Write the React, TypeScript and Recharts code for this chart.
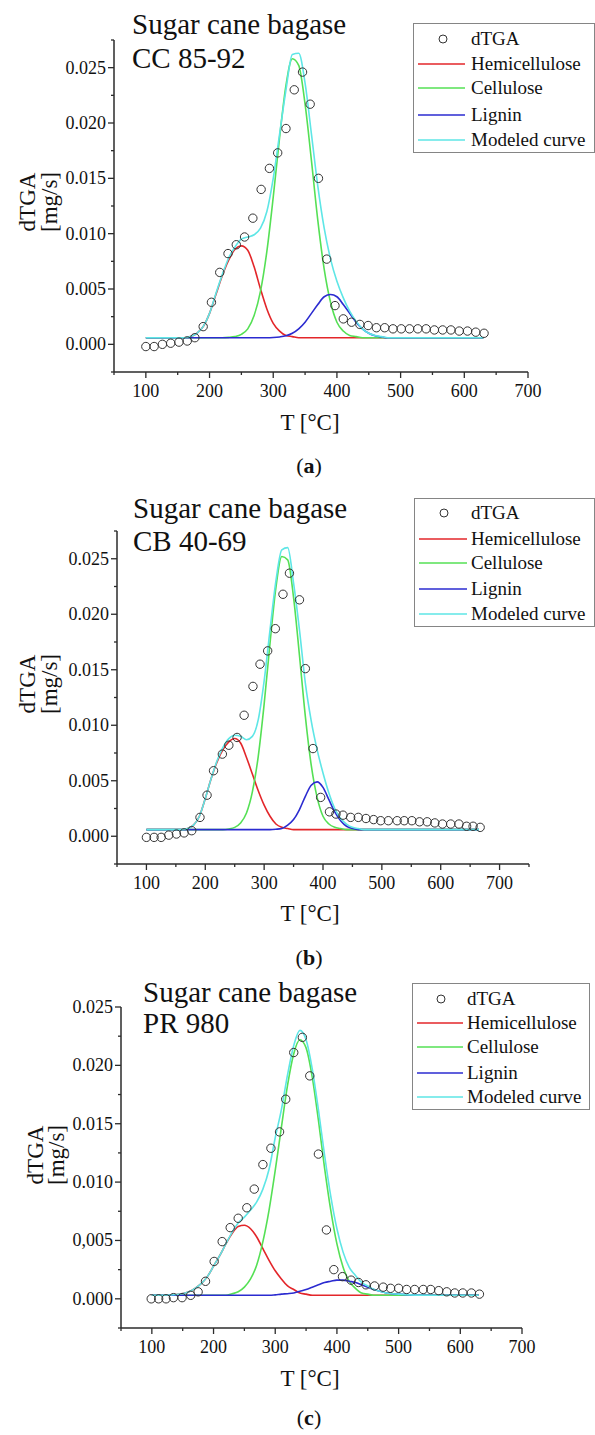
import { ComposedChart, Line, Scatter, XAxis, YAxis, Legend } from "recharts";

const FONT = '"Liberation Serif", "Times New Roman", serif';
const AXIS = "#2b2b2b";
const INK = "#111";

const RED = "#e3262a";
const GREEN = "#55e055";
const BLUE = "#2b2bd0";
const CYAN = "#5ee6e6";

// ---- shared axis ticks / labels
const X_TICKS = [50, 100, 150, 200, 250, 300, 350, 400, 450, 500, 550, 600, 650, 700];
const X_TICKS_B = [...X_TICKS, 750];
const X_MAJOR = [100, 200, 300, 400, 500, 600, 700];
const X_LABELS = ["100", "200", "300", "400", "500", "600", "700"];
const Y_TICKS_AB = [-0.0025, 0, 0.0025, 0.005, 0.0075, 0.01, 0.0125, 0.015, 0.0175, 0.02, 0.0225, 0.025, 0.0275];
const Y_TICKS_C = [-0.0025, 0, 0.0025, 0.005, 0.0075, 0.01, 0.0125, 0.015, 0.0175, 0.02, 0.0225, 0.025];
const Y_MAJOR = [0, 0.005, 0.01, 0.015, 0.02, 0.025];
const Y_LABELS = ["0.000", "0.005", "0.010", "0.015", "0.020", "0.025"];
const Y_LABELS_C = ["0.000", "0,005", "0.010", "0.015", "0.020", "0.025"];

const VARIETIES = ["CC 85-92", "CB 40-69", "PR 980"];

// ---- (a) CC 85-92
const dtgaTA = [100, 113, 126, 139, 152, 165, 177, 190, 203, 216, 229, 242, 255, 268, 281, 294, 307, 320, 333, 346, 358, 371, 384, 397, 410, 423, 436, 449, 462, 475, 488, 501, 514, 527, 540, 553, 566, 579, 592, 605, 618, 631];
const dtgaA = [-0.0002, -0.0002, 0.0, 0.0001, 0.0002, 0.0003, 0.0006, 0.0016, 0.0038, 0.0065, 0.0082, 0.009, 0.0097, 0.0114, 0.014, 0.0159, 0.0173, 0.0195, 0.023, 0.0246, 0.0217, 0.015, 0.0077, 0.0035, 0.0023, 0.002, 0.0018, 0.0017, 0.0015, 0.0015, 0.0014, 0.0014, 0.0014, 0.0014, 0.0014, 0.0013, 0.0013, 0.0013, 0.0012, 0.0012, 0.0011, 0.001];

// curve temperatures for (a) and (c)
const tAC = [100, 120, 140, 160, 170, 180, 190, 200, 210, 220, 230, 240, 250, 260, 270, 280, 290, 300, 310, 320, 330, 340, 350, 360, 370, 380, 390, 400, 410, 420, 430, 440, 450, 460, 470, 480, 500, 550, 600, 630];

const hemiA = [0.0006, 0.0006, 0.0006, 0.0006, 0.0007, 0.001, 0.0016, 0.0028, 0.0045, 0.0062, 0.0076, 0.0086, 0.0089, 0.0085, 0.007, 0.005, 0.0032, 0.0019, 0.0012, 0.0008, 0.0007, 0.0006, 0.0006, 0.0006, 0.0006, 0.0006, 0.0006, 0.0006, 0.0006, 0.0006, 0.0006, 0.0006, 0.0006, 0.0006, 0.0006, 0.0006, 0.0006, 0.0006, 0.0006, 0.0006];
const celA = [0.0006, 0.0006, 0.0006, 0.0006, 0.0006, 0.0006, 0.0006, 0.0006, 0.0006, 0.0006, 0.00063, 0.0007, 0.0009, 0.0014, 0.0026, 0.0048, 0.0084, 0.0133, 0.0187, 0.0234, 0.0258, 0.0252, 0.0217, 0.0166, 0.0112, 0.0068, 0.0038, 0.002, 0.0012, 0.0008, 0.0007, 0.0006, 0.0006, 0.0006, 0.0006, 0.0006, 0.0006, 0.0006, 0.0006, 0.0006];
const ligA = [0.0006, 0.0006, 0.0006, 0.0006, 0.0006, 0.0006, 0.0006, 0.0006, 0.0006, 0.0006, 0.0006, 0.0006, 0.0006, 0.0006, 0.0006, 0.0006, 0.0006, 0.00062, 0.00067, 0.00077, 0.001, 0.0014, 0.002, 0.0028, 0.0036, 0.0043, 0.0045, 0.0043, 0.0036, 0.0028, 0.002, 0.0014, 0.001, 0.00077, 0.00067, 0.0006, 0.0006, 0.0006, 0.0006, 0.0006];
const modA = [0.0006, 0.0006, 0.0006, 0.0006, 0.0007, 0.001, 0.0016, 0.0028, 0.0046, 0.0063, 0.0078, 0.0088, 0.0095, 0.0097, 0.0099, 0.0105, 0.012, 0.015, 0.019, 0.023, 0.0262, 0.0263, 0.0236, 0.019, 0.0143, 0.0105, 0.0077, 0.0057, 0.0042, 0.003, 0.0021, 0.0014, 0.001, 0.0008, 0.0007, 0.0006, 0.0006, 0.0006, 0.0006, 0.0006];

// ---- (b) CB 40-69
const dtgaTB = [100, 113, 125, 138, 151, 164, 177, 191, 203, 214, 229, 240, 254, 266, 281, 293, 306, 319, 332, 343, 360, 370, 383, 396, 411, 422, 434, 447, 460, 473, 486, 498, 511, 526, 538, 551, 564, 577, 590, 603, 617, 631, 644, 655, 667];
const dtgaB = [-0.0001, -0.0001, -0.0001, 0.0001, 0.0002, 0.0003, 0.0005, 0.0017, 0.0037, 0.0059, 0.0074, 0.0082, 0.0089, 0.0109, 0.0135, 0.0155, 0.0167, 0.0187, 0.0218, 0.0237, 0.0213, 0.0151, 0.0079, 0.0035, 0.0022, 0.002, 0.0019, 0.0017, 0.0017, 0.0016, 0.0015, 0.0014, 0.0014, 0.0014, 0.0014, 0.0014, 0.0013, 0.0013, 0.0012, 0.0011, 0.0011, 0.0011, 0.0009, 0.0009, 0.0008];

const tB = [100, 120, 140, 160, 170, 180, 190, 200, 210, 220, 230, 240, 250, 260, 270, 280, 290, 300, 310, 320, 330, 340, 350, 360, 370, 380, 390, 400, 410, 420, 430, 440, 450, 460, 470, 480, 500, 550, 600, 650, 665];
const hemiB = [0.0006, 0.0006, 0.0006, 0.0006, 0.0007, 0.001, 0.0018, 0.0034, 0.0052, 0.0067, 0.0078, 0.0085, 0.0088, 0.0084, 0.0071, 0.0056, 0.0041, 0.0028, 0.0018, 0.0011, 0.0008, 0.0007, 0.0006, 0.0006, 0.0006, 0.0006, 0.0006, 0.0006, 0.0006, 0.0006, 0.0006, 0.0006, 0.0006, 0.0006, 0.0006, 0.0006, 0.0006, 0.0006, 0.0006, 0.0006, 0.0006];
const celB = [0.0006, 0.0006, 0.0006, 0.0006, 0.0006, 0.0006, 0.0006, 0.0006, 0.0006, 0.0006, 0.0006, 0.00066, 0.0008, 0.0012, 0.0021, 0.004, 0.0072, 0.0119, 0.0174, 0.0224, 0.0252, 0.0249, 0.0215, 0.0163, 0.0108, 0.0064, 0.0035, 0.0018, 0.0011, 0.0008, 0.0007, 0.0006, 0.0006, 0.0006, 0.0006, 0.0006, 0.0006, 0.0006, 0.0006, 0.0006, 0.0006];
const ligB = [0.0006, 0.0006, 0.0006, 0.0006, 0.0006, 0.0006, 0.0006, 0.0006, 0.0006, 0.0006, 0.0006, 0.0006, 0.0006, 0.0006, 0.0006, 0.0006, 0.0006, 0.0006, 0.0006, 0.00063, 0.0007, 0.001, 0.0015, 0.0024, 0.0036, 0.0046, 0.0049, 0.0044, 0.0033, 0.0022, 0.0014, 0.0009, 0.0007, 0.0006, 0.0006, 0.0006, 0.0006, 0.0006, 0.0006, 0.0006, 0.0006];
const modB = [0.0006, 0.0006, 0.0006, 0.0006, 0.0007, 0.001, 0.0018, 0.0034, 0.0052, 0.0068, 0.008, 0.0088, 0.0091, 0.009, 0.0087, 0.009, 0.0105, 0.014, 0.0186, 0.023, 0.0258, 0.026, 0.0228, 0.0186, 0.0138, 0.0104, 0.0078, 0.0057, 0.0039, 0.0025, 0.0016, 0.0011, 0.0008, 0.0007, 0.0006, 0.0006, 0.0006, 0.0006, 0.0006, 0.0006, 0.0006];

// ---- (c) PR 980
const dtgaTC = [99, 111, 123, 135, 149, 163, 175, 187, 201, 214, 227, 240, 254, 266, 280, 293, 307, 317, 330, 344, 356, 370, 383, 395, 409, 423, 435, 447, 461, 475, 487, 500, 513, 526, 540, 552, 565, 578, 591, 604, 618, 631];
const dtgaC = [0.0, 0.0, 0.0, 0.0001, 0.0001, 0.0003, 0.0006, 0.0015, 0.0032, 0.0049, 0.0061, 0.0069, 0.0078, 0.0094, 0.0115, 0.0129, 0.0143, 0.0171, 0.0211, 0.0224, 0.0191, 0.0124, 0.0059, 0.0025, 0.0019, 0.0016, 0.0014, 0.0012, 0.0011, 0.001, 0.0009, 0.0009, 0.0008, 0.0008, 0.0008, 0.0008, 0.0007, 0.0006, 0.0005, 0.0005, 0.0005, 0.0004];

const hemiC = [0.0003, 0.0003, 0.00037, 0.0006, 0.0009, 0.0013, 0.0019, 0.0028, 0.0037, 0.0047, 0.0056, 0.0062, 0.0063, 0.006, 0.0053, 0.0043, 0.0033, 0.0024, 0.0017, 0.0011, 0.0008, 0.0005, 0.0004, 0.0003, 0.0003, 0.0003, 0.0003, 0.0003, 0.0003, 0.0003, 0.0003, 0.0003, 0.0003, 0.0003, 0.0003, 0.0003, 0.0003, 0.0003, 0.0003, 0.0003];
const celC = [0.0003, 0.0003, 0.0003, 0.0003, 0.0003, 0.0003, 0.0003, 0.0003, 0.0003, 0.0003, 0.00043, 0.0006, 0.001, 0.0017, 0.0029, 0.0049, 0.0076, 0.011, 0.0147, 0.0183, 0.021, 0.0222, 0.0215, 0.019, 0.0153, 0.0112, 0.0076, 0.0047, 0.0027, 0.0015, 0.0009, 0.0005, 0.0004, 0.0003, 0.0003, 0.0003, 0.0003, 0.0003, 0.0003, 0.0003];
const ligC = [0.0003, 0.0003, 0.0003, 0.0003, 0.0003, 0.0003, 0.0003, 0.0003, 0.0003, 0.0003, 0.0003, 0.0003, 0.0003, 0.0003, 0.0003, 0.0003, 0.0003, 0.00034, 0.0004, 0.00044, 0.0005, 0.00065, 0.0008, 0.001, 0.0012, 0.0014, 0.0015, 0.0016, 0.0016, 0.0015, 0.0014, 0.0012, 0.001, 0.0008, 0.00065, 0.0005, 0.0004, 0.0003, 0.0003, 0.0003];
const modC = [0.0003, 0.0003, 0.00037, 0.0006, 0.0009, 0.0013, 0.0019, 0.0028, 0.0037, 0.0047, 0.0057, 0.0065, 0.007, 0.0076, 0.0083, 0.0094, 0.0111, 0.0138, 0.0162, 0.0192, 0.0217, 0.023, 0.0222, 0.0197, 0.0162, 0.0123, 0.0088, 0.006, 0.004, 0.0027, 0.002, 0.0014, 0.0011, 0.0008, 0.00065, 0.0005, 0.0004, 0.0003, 0.0003, 0.0003];

const curveData = (t: number[], h: number[], c: number[], l: number[], m: number[]) =>
  t.map((T, i) => ({ T, hemi: h[i], cel: c[i], lig: l[i], mod: m[i] }));
const pointData = (t: number[], v: number[]) => t.map((T, i) => ({ T, dtga: v[i] }));

const SERIES = [
  { key: "hemi", name: "Hemicellulose", color: RED },
  { key: "cel", name: "Cellulose", color: GREEN },
  { key: "lig", name: "Lignin", color: BLUE },
  { key: "mod", name: "Modeled curve", color: CYAN },
];

const PANELS = [
  {
    key: "a", top: 0, height: 420,
    margin: { top: 40, right: 67, left: 54, bottom: 8 },
    xDomain: [50, 700], yDomain: [-0.0025, 0.0275],
    xTicks: X_TICKS, yTicks: Y_TICKS_AB, yLabels: Y_LABELS,
    curve: curveData(tAC, hemiA, celA, ligA, modA),
    points: pointData(dtgaTA, dtgaA),
    legend: { left: 413, top: 23, width: 182, height: 130, rows: [16, 41, 65, 92, 117], line: [5, 52], dot: 30, text: 58 },
    title: { x: 132, y1: 34, y2: 68 },
    yLab: { x1: 35, x2: 57, cy: 202 },
    xLab: 430, tag: 473,
  },
  {
    key: "b", top: 490, height: 420,
    margin: { top: 41, right: 66, left: 57, bottom: 6 },
    xDomain: [50, 750], yDomain: [-0.0025, 0.0275],
    xTicks: X_TICKS_B, yTicks: Y_TICKS_AB, yLabels: Y_LABELS,
    curve: curveData(tB, hemiB, celB, ligB, modB),
    points: pointData(dtgaTB, dtgaB),
    legend: { left: 414, top: 8, width: 181, height: 129, rows: [15, 41, 65, 91, 116], line: [5, 53], dot: 30, text: 57 },
    title: { x: 133, y1: 518, y2: 551 },
    yLab: { x1: 35, x2: 57, cy: 684 },
    xLab: 921, tag: 965,
  },
  {
    key: "c", top: 970, height: 420,
    margin: { top: 37, right: 73, left: 61, bottom: 22 },
    xDomain: [50, 700], yDomain: [-0.0025, 0.025],
    xTicks: X_TICKS, yTicks: Y_TICKS_C, yLabels: Y_LABELS_C,
    curve: curveData(tAC, hemiC, celC, ligC, modC),
    points: pointData(dtgaTC, dtgaC),
    legend: { left: 412, top: 13, width: 178, height: 127, rows: [16, 40, 64, 90, 114], line: [5, 51], dot: 29, text: 55 },
    title: { x: 143, y1: 1002, y2: 1033 },
    yLab: { x1: 43, x2: 64, cy: 1155 },
    xLab: 1386, tag: 1425,
  },
];

const makeXTick = () => (props: any) => {
  const { x, y, payload } = props;
  const idx = X_MAJOR.indexOf(payload.value);
  const major = idx >= 0;
  return (
    <g>
      <line x1={x} x2={x} y1={y} y2={y + (major ? 6 : 3)} stroke={AXIS} strokeWidth={1.3} />
      {major && (
        <text x={x} y={y + 25} textAnchor="middle" fontSize={18} fontFamily={FONT} fill={INK}>
          {X_LABELS[idx]}
        </text>
      )}
    </g>
  );
};

const makeYTick = (labels: string[]) => (props: any) => {
  const { x, y, payload } = props;
  const idx = Y_MAJOR.findIndex((v) => Math.abs(v - payload.value) < 1e-9);
  const major = idx >= 0;
  return (
    <g>
      <line x1={x - (major ? 6 : 3)} x2={x} y1={y} y2={y} stroke={AXIS} strokeWidth={1.3} />
      {major && (
        <text x={x - 8} y={y + 6} textAnchor="end" fontSize={18} fontFamily={FONT} fill={INK}>
          {labels[idx]}
        </text>
      )}
    </g>
  );
};

const LegendBox = ({ box }: any) => (
  <div
    style={{
      position: "relative",
      width: box.width,
      height: box.height,
      border: "1px solid #858585",
      boxSizing: "border-box",
      background: "#fff",
      fontFamily: FONT,
      fontSize: 19,
      color: INK,
    }}
  >
    <svg width={box.width} height={box.height} style={{ position: "absolute", left: -1, top: -1 }}>
      <circle cx={box.dot} cy={box.rows[0]} r={4} fill="none" stroke="#333" strokeWidth={1} />
      {SERIES.map((s, i) => (
        <line key={s.key} x1={box.line[0]} x2={box.line[1]} y1={box.rows[i + 1]} y2={box.rows[i + 1]} stroke={s.color} strokeWidth={1.6} />
      ))}
    </svg>
    {["dTGA", ...SERIES.map((s) => s.name)].map((name, i) => (
      <div key={name} style={{ position: "absolute", left: box.text - 1, top: box.rows[i] - 12, lineHeight: "22px", whiteSpace: "nowrap" }}>
        {name}
      </div>
    ))}
  </div>
);

function Panel({ p }: { p: any }) {
  return (
    <div style={{ position: "absolute", left: 0, top: p.top, width: 595, height: p.height }}>
      <ComposedChart width={595} height={p.height} margin={p.margin}>
        <XAxis
          type="number"
          dataKey="T"
          domain={p.xDomain}
          allowDataOverflow
          ticks={p.xTicks}
          interval={0}
          tickSize={0}
          tickMargin={0}
          height={40}
          axisLine={{ stroke: AXIS, strokeWidth: 1.5 }}
          tickLine={false}
          tick={makeXTick()}
        />
        <YAxis
          type="number"
          domain={p.yDomain}
          allowDataOverflow
          ticks={p.yTicks}
          interval={0}
          tickSize={0}
          tickMargin={0}
          width={60}
          axisLine={{ stroke: AXIS, strokeWidth: 1.5 }}
          tickLine={false}
          tick={makeYTick(p.yLabels)}
        />
        <Legend
          layout="horizontal"
          verticalAlign="middle"
          align="center"
          wrapperStyle={{ position: "absolute", left: p.legend.left, top: p.legend.top, width: p.legend.width, height: p.legend.height }}
          content={() => <LegendBox box={p.legend} />}
        />
        <Scatter
          name="dTGA"
          data={p.points}
          dataKey="dtga"
          isAnimationActive={false}
          shape={(s: any) => <circle cx={s.cx} cy={s.cy} r={4.2} fill="none" stroke="#333" strokeWidth={1} />}
        />
        {SERIES.map((s) => (
          <Line
            key={s.key}
            name={s.name}
            data={p.curve}
            dataKey={s.key}
            type="monotone"
            stroke={s.color}
            strokeWidth={1.6}
            dot={false}
            activeDot={false}
            isAnimationActive={false}
          />
        ))}
      </ComposedChart>
    </div>
  );
}

export default function App() {
  return (
    <div style={{ position: "absolute", left: 0, top: 0, width: 595, height: 1435, background: "#fff", overflow: "hidden" }}>
      {PANELS.map((p) => (
        <Panel key={p.key} p={p} />
      ))}
      <svg width={595} height={1435} style={{ position: "absolute", left: 0, top: 0, pointerEvents: "none" }} fontFamily={FONT} fill={INK}>
        {PANELS.map((p, i) => (
          <g key={p.key}>
            <text x={p.title.x} y={p.title.y1} fontSize={29}>Sugar cane bagase</text>
            <text x={p.title.x} y={p.title.y2} fontSize={29}>{VARIETIES[i]}</text>
            <text transform={`translate(${p.yLab.x1},${p.yLab.cy}) rotate(-90)`} textAnchor="middle" fontSize={23}>dTGA</text>
            <text transform={`translate(${p.yLab.x2},${p.yLab.cy}) rotate(-90)`} textAnchor="middle" fontSize={23}>[mg/s]</text>
            <text x={310} y={p.xLab} textAnchor="middle" fontSize={23}>T [°C]</text>
            <text x={309} y={p.tag} textAnchor="middle" fontSize={22}>
              (<tspan fontWeight="bold">{p.key}</tspan>)
            </text>
          </g>
        ))}
      </svg>
    </div>
  );
}
